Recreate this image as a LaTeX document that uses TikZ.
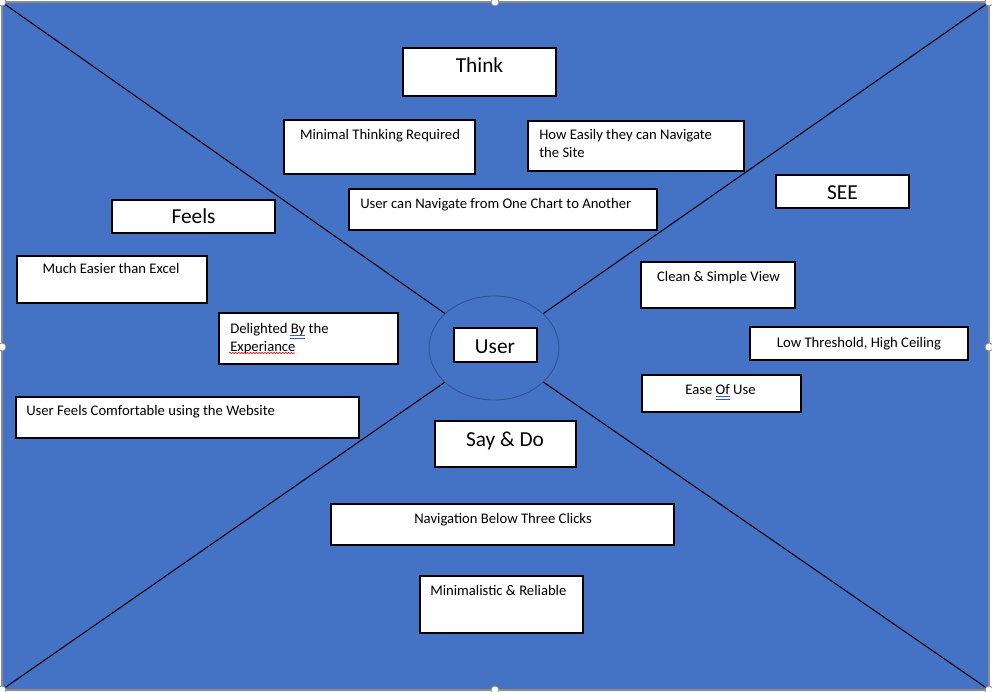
\documentclass[tikz,border=0pt]{standalone}
\usepackage{fontspec}
\setmainfont{Carlito}
\usetikzlibrary{shapes,decorations.pathmorphing}
\definecolor{mapblue}{HTML}{4472C4}
\definecolor{ringblue}{HTML}{2F528F}
\definecolor{framegray}{HTML}{8C8C8C}
\definecolor{spellred}{HTML}{E00000}
\definecolor{grammarblue}{HTML}{2E5BD8}

\begin{document}
\begin{tikzpicture}[x=0.75pt,y=-0.75pt,
  card/.style={draw=black,fill=white,line width=0.8pt,inner sep=0pt},
  wh/.style 2 args={minimum width=#1*0.75pt,minimum height=#2*0.75pt},
  txt/.style={font=\fontsize{11}{13.5}\selectfont,inner sep=0pt,align=left},
  big/.style={font=\fontsize{16}{19}\selectfont,inner sep=0pt},
  grammar/.style={grammarblue,line width=0.45pt},
  spelling/.style={spellred,line width=0.45pt,decorate,decoration={snake,amplitude=0.5pt,segment length=2.2pt}},
  handle/.style={draw=framegray,fill=white,line width=0.6pt}]
\useasboundingbox (0,0) rectangle (992,692);
\fill[white] (0,0) rectangle (992,692);
\draw[framegray,fill=mapblue,line width=1pt] (2,2) rectangle (989,690);
\coordinate (tl) at (3,3);
\coordinate (tr) at (988,3);
\coordinate (bl) at (3,689);
\coordinate (br) at (988,689);
\node[ellipse,draw=ringblue,line width=0.6pt,minimum width=97.5pt,minimum height=78pt,inner sep=0pt] (ring) at (494,348) {};
\draw[line width=0.8pt] (tl) -- (ring) (tr) -- (ring) (bl) -- (ring) (br) -- (ring);

% think
\node[card,wh={153}{48}] (think) at (479.5,72) {};
\node[big,anchor=base] (think-t) at (479.5,73) {Think};
\node[card,wh={191}{54}] (minimal) at (379.5,147) {};
\node[txt,anchor=base] (minimal-t) at (380,139) {Minimal Thinking Required};
\node[card,wh={216}{50}] (navsite) at (636,146) {};
\node[txt,anchor=north west] (navsite-t) at (539,129) {How Easily they can Navigate\\the Site};
\node[card,wh={308}{41}] (navchart) at (503,209.5) {};
\node[txt,anchor=base west] (navchart-t) at (360,208) {User can Navigate from One Chart to Another};

% see
\node[card,wh={133}{33}] (see) at (842.5,191.5) {};
\node[big,anchor=base] (see-t) at (842.5,199) {SEE};
\node[card,wh={154}{46}] (clean) at (718,285) {};
\node[txt,anchor=base] (clean-t) at (718.5,281) {Clean \& Simple View};
\node[card,wh={218}{33}] (ceiling) at (859,343.5) {};
\node[txt,anchor=base] (ceiling-t) at (859,347) {Low Threshold, High Ceiling};
\node[card,wh={159}{37}] (ease) at (721.5,393.5) {};
\node[txt,anchor=base] (ease-t) at (720.5,394) {Ease Of Use};
\draw[grammar] (716,396.5) -- (730,396.5) (716,399) -- (730,399);

% feels
\node[card,wh={163}{33}] (feels) at (193.5,216.5) {};
\node[big,anchor=base] (feels-t) at (193.5,223) {Feels};
\node[card,wh={190}{47}] (excel) at (112,279.5) {};
\node[txt,anchor=base] (excel-t) at (111,273) {Much Easier than Excel};
\node[card,wh={179}{51}] (delight) at (308.5,338.5) {};
\node[txt,anchor=north west] (delight-t) at (230,323) {Delighted By the\\Experiance};
\draw[grammar] (290,335.5) -- (305,335.5) (290,338) -- (305,338);
\draw[spelling] (229,353) -- (295,353);
\node[card,wh={343}{41}] (comfort) at (187.5,417.5) {};
\node[txt,anchor=base west] (comfort-t) at (26,415) {User Feels Comfortable using the Website};

% user
\node[card,wh={83}{34}] (user) at (495.5,345) {};
\node[big,anchor=base] (user-t) at (495,353) {User};

% say and do
\node[card,wh={141}{46}] (saydo) at (505.5,444) {};
\node[big,anchor=base] (saydo-t) at (505,446) {Say \& Do};
\node[card,wh={343}{41}] (clicks) at (502.5,524.5) {};
\node[txt,anchor=base] (clicks-t) at (503,523) {Navigation Below Three Clicks};
\node[card,wh={163}{57}] (reliable) at (501.5,604.5) {};
\node[txt,anchor=base west] (reliable-t) at (430,595) {Minimalistic \& Reliable};

\foreach \p in {(2,2),(495,2),(989,2),(2,347),(989,347),(2,690),(495,690),(989,690)}
  \draw[handle] \p circle (4);
\end{tikzpicture}
\end{document}
